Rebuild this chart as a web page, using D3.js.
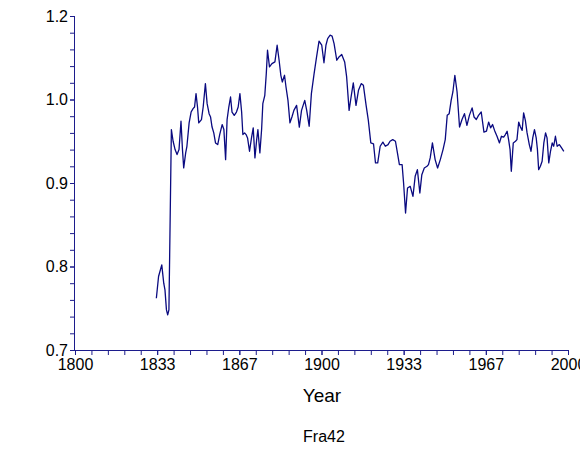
<!DOCTYPE html>
<html>
<head>
<meta charset="utf-8">
<script src="https://cdn.jsdelivr.net/npm/d3@7"></script>
<style>
html,body{margin:0;padding:0;background:#fff;}
svg{display:block;font-family:"Liberation Sans",Arial,sans-serif;}
</style>
</head>
<body>
<svg id="chart" width="580" height="455"></svg>
<script>
const years = [1833.0,1833.9,1835.2,1836.0,1836.5,1837.1,1837.6,1838.1,1839.1,1839.8,
1840.6,1841.4,1842.2,1843.0,1843.6,1844.1,1844.9,1845.4,1846.3,1847.1,
1847.9,1848.5,1849.1,1849.7,1850.2,1851.3,1852.0,1852.9,1853.6,1854.4,
1855.0,1855.6,1856.3,1857.0,1857.9,1858.7,1859.7,1860.4,1861.1,1861.7,
1862.4,1863.1,1863.7,1864.6,1865.5,1866.2,1866.9,1867.6,1868.1,1868.8,
1869.4,1870.0,1870.8,1871.6,1872.3,1873.0,1873.7,1874.2,1875.0,1875.7,
1876.2,1877.0,1877.6,1878.1,1878.9,1879.9,1881.1,1882.0,1882.8,1883.5,
1884.1,1885.0,1885.6,1886.4,1887.2,1888.0,1888.8,1889.9,1891.0,1891.9,
1893.2,1894.0,1895.0,1895.9,1897.0,1898.0,1899.0,1900.1,1901.0,1901.8,
1902.5,1903.5,1904.3,1905.1,1906.2,1907.1,1908.2,1909.4,1910.2,1911.2,
1912.0,1912.9,1914.0,1915.0,1916.1,1917.0,1918.1,1919.0,1920.0,1921.1,
1921.9,1922.8,1923.8,1924.9,1925.9,1927.0,1927.8,1928.9,1930.0,1930.8,
1931.6,1932.7,1933.3,1934.1,1934.9,1936.0,1937.1,1938.0,1938.9,1939.9,
1940.7,1941.7,1942.8,1943.4,1944.1,1945.0,1946.1,1947.1,1948.2,1949.3,
1950.2,1951.0,1951.8,1952.6,1953.3,1954.1,1955.0,1956.0,1957.0,1958.0,
1959.0,1960.0,1961.1,1961.9,1962.8,1963.7,1964.8,1965.9,1966.9,1967.8,
1968.6,1969.4,1970.2,1971.2,1972.2,1973.0,1973.9,1974.6,1975.3,1975.9,
1976.5,1977.0,1977.8,1978.7,1979.3,1980.0,1980.7,1981.4,1982.0,1982.7,
1983.4,1984.3,1985.0,1985.7,1986.4,1987.1,1987.6,1988.1,1988.8,1989.5,
1990.2,1990.9,1991.5,1992.2,1992.9,1993.6,1994.2,1994.9,1995.6,1996.5,
1997.4,1998.3];
const values = [0.762,0.788,0.802,0.780,0.772,0.748,0.742,0.748,0.964,0.950,
0.940,0.934,0.940,0.974,0.940,0.918,0.936,0.944,0.972,0.985,
0.989,0.991,1.007,0.991,0.972,0.976,0.991,1.019,0.995,0.983,
0.979,0.967,0.960,0.948,0.946,0.958,0.970,0.964,0.928,0.976,
0.991,1.003,0.985,0.981,0.985,0.991,1.007,0.985,0.958,0.960,
0.958,0.954,0.938,0.954,0.966,0.930,0.952,0.964,0.936,0.964,
0.995,1.005,1.031,1.059,1.039,1.043,1.045,1.065,1.047,1.029,
1.021,1.029,1.015,0.999,0.972,0.979,0.987,0.993,0.967,0.987,
0.999,0.987,0.968,1.007,1.031,1.051,1.070,1.065,1.044,1.065,
1.073,1.077,1.076,1.067,1.047,1.051,1.054,1.045,1.027,0.987,
1.003,1.020,0.993,1.011,1.019,1.017,0.993,0.975,0.948,0.947,
0.924,0.924,0.944,0.949,0.944,0.946,0.950,0.952,0.950,0.936,
0.922,0.922,0.900,0.864,0.894,0.896,0.884,0.908,0.916,0.888,
0.910,0.918,0.920,0.922,0.930,0.948,0.928,0.918,0.928,0.940,
0.952,0.981,0.983,0.999,1.009,1.029,1.009,0.967,0.976,0.983,
0.969,0.981,0.990,0.979,0.976,0.981,0.985,0.961,0.962,0.973,
0.966,0.970,0.963,0.956,0.948,0.956,0.955,0.958,0.962,0.952,
0.940,0.914,0.948,0.950,0.952,0.973,0.967,0.963,0.984,0.975,
0.960,0.946,0.938,0.954,0.964,0.954,0.940,0.916,0.920,0.926,
0.948,0.960,0.954,0.924,0.938,0.948,0.944,0.956,0.944,0.946,
0.942,0.938];

const xTickValues = [1800, 1833.333, 1866.667, 1900, 1933.333, 1966.667, 2000];
const xTickLabels = ["1800", "1833", "1867", "1900", "1933", "1967", "2000"];
const yTickValues = [0.7, 0.8, 0.9, 1.0, 1.1];
const yTickLabels = ["0.7", "0.8", "0.9", "1.0", "1.2"];
const xTitle = "Year";
const chartTitle = "Fra42";

(function () {
  const svg = d3.select("#chart");
  const mLeft = 75, mRight = 568, mTop = 16, mBottom = 350;
  const axisColor = "#1c1c8c";
  const lineColor = "#0a0a80";

  const x = d3.scaleLinear().domain([1800, 2000]).range([mLeft, mRight]);
  const y = d3.scaleLinear().domain([0.7, 1.1]).range([mBottom, mTop]);

  const xMinor = d3.range(0, 31).map(i => 1800 + i * 200 / 30);
  const yMinor = d3.range(0, 21).map(i => 0.7 + i * 0.02);

  const gx = svg.append("g").attr("transform", `translate(0,${mBottom})`)
    .call(d3.axisBottom(x).tickValues(xMinor).tickSize(5).tickFormat(""));
  const gx2 = svg.append("g").attr("transform", `translate(0,${mBottom})`)
    .call(d3.axisBottom(x).tickValues(xTickValues).tickSize(5).tickPadding(4)
      .tickFormat((d, i) => xTickLabels[i]));
  gx2.select(".domain").remove();

  const gy = svg.append("g").attr("transform", `translate(${mLeft},0)`)
    .call(d3.axisLeft(y).tickValues(yMinor).tickSize(5).tickFormat(""));
  const gy2 = svg.append("g").attr("transform", `translate(${mLeft},0)`)
    .call(d3.axisLeft(y).tickValues(yTickValues).tickSize(5).tickPadding(2)
      .tickFormat((d, i) => yTickLabels[i]));
  gy2.select(".domain").remove();

  gx.select(".domain").attr("stroke", axisColor).attr("d", `M${mLeft},0.5H${mRight}`);
  gy.select(".domain").attr("stroke", axisColor).attr("d", `M-0.5,${mTop}V${mBottom}`);
  svg.selectAll(".tick line").attr("stroke", axisColor);
  svg.selectAll(".tick text").attr("fill", "#000").attr("font-size", 16)
    .attr("font-family", "'Liberation Sans', Arial, sans-serif");

  const line = d3.line().x((d, i) => x(years[i])).y((d, i) => y(values[i]));
  svg.append("path").datum(values).attr("d", line)
    .attr("fill", "none").attr("stroke", lineColor).attr("stroke-width", 1.3)
    .attr("stroke-linejoin", "round");

  svg.append("text").attr("x", 322).attr("y", 402)
    .attr("text-anchor", "middle").attr("font-size", 19).text(xTitle);
  svg.append("text").attr("x", 324).attr("y", 442)
    .attr("text-anchor", "middle").attr("font-size", 16).text(chartTitle);
})();
</script>
</body>
</html>
